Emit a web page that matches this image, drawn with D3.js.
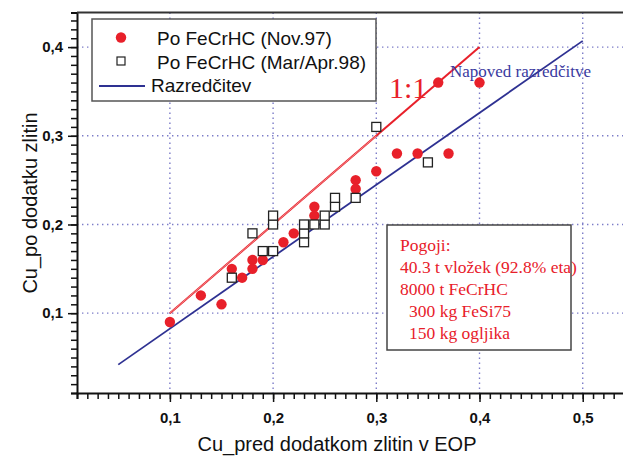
<!DOCTYPE html>
<html>
  <head>
    <style>
      html,
      body { margin: 0; background: #fff; }
      svg { display: block; }
    </style>
    <script src="https://d3js.org/d3.v7.js"></script>
  </head>
  <body>
    <svg class="chart"></svg>

    <script>
      const width = 623;
      const height = 458;

      // Po FeCrHC (Nov.97) - red circles
      const nov97X = [0.10, 0.13, 0.15, 0.16, 0.17, 0.18, 0.18, 0.19, 0.20, 0.21, 0.22, 0.24, 0.24, 0.28, 0.28, 0.30, 0.32, 0.34, 0.36, 0.37, 0.40];
      const nov97Y = [0.09, 0.12, 0.11, 0.15, 0.14, 0.16, 0.15, 0.16, 0.17, 0.18, 0.19, 0.22, 0.21, 0.25, 0.24, 0.26, 0.28, 0.28, 0.36, 0.28, 0.36];

      // Po FeCrHC (Mar/Apr.98) - open squares
      const mar98X = [0.16, 0.18, 0.19, 0.20, 0.20, 0.20, 0.23, 0.23, 0.23, 0.24, 0.25, 0.25, 0.26, 0.26, 0.28, 0.30, 0.35];
      const mar98Y = [0.14, 0.19, 0.17, 0.17, 0.20, 0.21, 0.18, 0.19, 0.20, 0.20, 0.20, 0.21, 0.22, 0.23, 0.23, 0.31, 0.27];

      // Razredčitev (predicted dilution) and the 1:1 line
      const dilutionX = [0.05, 0.50];
      const dilutionY = [0.042, 0.407];
      const oneToOneX = [0.10, 0.40];
      const oneToOneY = [0.10, 0.40];

      const tickValues = [0.1, 0.2, 0.3, 0.4, 0.5];
      const legendLabels = ['Po FeCrHC (Nov.97)', 'Po FeCrHC (Mar/Apr.98)', 'Razredčitev'];
      const noteLines = ['Pogoji:', '40.3 t vložek (92.8% eta)', '8000 t FeCrHC', '  300 kg FeSi75', '  150 kg ogljika'];

      const red = '#e8202a';
      const blue = '#2e3192';
      const gridColor = '#7c7cc8';

      const svg = d3.select('svg')
        .attr('width', width)
        .attr('height', height);

      const x = d3.scaleLinear().domain([0.01, 0.54]).range([77, 624]);
      const y = d3.scaleLinear().domain([0.01, 0.439]).range([393, 12.5]);

      const fmt = (d) => d.toFixed(1).replace('.', ',');

      // grid
      svg.append('g')
        .selectAll('line')
        .data(tickValues)
        .join('line')
        .attr('x1', (d) => x(d)).attr('x2', (d) => x(d))
        .attr('y1', y.range()[1]).attr('y2', y.range()[0])
        .attr('stroke', gridColor)
        .attr('stroke-width', 1.4)
        .attr('stroke-dasharray', '1.4,3.6');

      svg.append('g')
        .selectAll('line')
        .data(tickValues.filter((d) => d < 0.44))
        .join('line')
        .attr('x1', x.range()[0]).attr('x2', x.range()[1])
        .attr('y1', (d) => y(d)).attr('y2', (d) => y(d))
        .attr('stroke', gridColor)
        .attr('stroke-width', 1.4)
        .attr('stroke-dasharray', '1.4,3.6');

      // minor ticks every 0.01
      const minorX = d3.range(1, 55).map((i) => i / 100);
      const minorY = d3.range(1, 44).map((i) => i / 100);

      svg.append('g')
        .attr('transform', `translate(0,${y.range()[0]})`)
        .call(d3.axisBottom(x).tickValues(minorX).tickSize(6).tickFormat(''));
      svg.append('g')
        .attr('transform', `translate(0,${y.range()[0]})`)
        .call(d3.axisBottom(x).tickValues(tickValues).tickSize(9).tickPadding(10).tickFormat(fmt))
        .call((g) => g.select('.domain').remove());

      svg.append('g')
        .attr('transform', `translate(${x.range()[0]},0)`)
        .call(d3.axisLeft(y).tickValues(minorY).tickSize(6).tickFormat(''));
      svg.append('g')
        .attr('transform', `translate(${x.range()[0]},0)`)
        .call(d3.axisLeft(y).tickValues(tickValues.slice(0, 4)).tickSize(9).tickPadding(5).tickFormat(fmt))
        .call((g) => g.select('.domain').remove());

      svg.selectAll('.domain').attr('stroke', '#111').attr('stroke-width', 2);
      svg.selectAll('.tick line').attr('stroke', '#111').attr('stroke-width', 1.5);
      svg.selectAll('.tick text')
        .style('font-family', 'Liberation Sans, Arial, sans-serif')
        .style('font-size', '15px')
        .style('font-weight', 'bold')
        .attr('fill', '#111');

      // top frame
      svg.append('line')
        .attr('x1', x.range()[0]).attr('x2', width)
        .attr('y1', y.range()[1]).attr('y2', y.range()[1])
        .attr('stroke', '#333').attr('stroke-width', 2);

      // axis titles
      svg.append('text')
        .attr('x', 337).attr('y', 451)
        .attr('text-anchor', 'middle')
        .style('font-family', 'Liberation Sans, Arial, sans-serif')
        .style('font-size', '20px')
        .attr('fill', '#111')
        .text('Cu_pred dodatkom zlitin v EOP');

      svg.append('text')
        .attr('transform', 'translate(37,203) rotate(-90)')
        .attr('text-anchor', 'middle')
        .style('font-family', 'Liberation Sans, Arial, sans-serif')
        .style('font-size', '20px')
        .attr('fill', '#111')
        .text('Cu_po dodatku zlitin');

      // lines
      const line = d3.line().x((d) => x(d[0])).y((d) => y(d[1]));

      svg.append('path')
        .datum(d3.zip(dilutionX, dilutionY))
        .attr('d', line)
        .attr('fill', 'none')
        .attr('stroke', blue)
        .attr('stroke-width', 1.8);

      svg.append('path')
        .datum(d3.zip(oneToOneX, oneToOneY))
        .attr('d', line)
        .attr('fill', 'none')
        .attr('stroke', red)
        .attr('stroke-width', 2);

      // lighter core on the lower part of the 1:1 line
      svg.append('path')
        .datum([[oneToOneX[0], oneToOneY[0]], [0.3, 0.3]])
        .attr('d', line)
        .attr('fill', 'none')
        .attr('stroke', '#f6b0b0')
        .attr('stroke-width', 0.7);

      // points
      svg.append('g')
        .selectAll('circle')
        .data(d3.zip(nov97X, nov97Y))
        .join('circle')
        .attr('cx', (d) => x(d[0]))
        .attr('cy', (d) => y(d[1]))
        .attr('r', 5.2)
        .attr('fill', red);

      svg.append('g')
        .selectAll('rect')
        .data(d3.zip(mar98X, mar98Y))
        .join('rect')
        .attr('x', (d) => x(d[0]) - 4.5)
        .attr('y', (d) => y(d[1]) - 4.5)
        .attr('width', 9)
        .attr('height', 9)
        .attr('fill', '#fff')
        .attr('stroke', '#222')
        .attr('stroke-width', 1.3);

      // line labels
      svg.append('text')
        .attr('x', 389).attr('y', 98)
        .style('font-family', 'Liberation Serif, Times New Roman, serif')
        .style('font-size', '30px')
        .attr('fill', red)
        .text('1:1');

      svg.append('text')
        .attr('x', 450).attr('y', 77)
        .style('font-family', 'Liberation Serif, Times New Roman, serif')
        .style('font-size', '17px')
        .attr('fill', '#3a3aa0')
        .text('Napoved razredčitve');

      // legend
      const legend = svg.append('g');
      legend.append('rect')
        .attr('x', 92).attr('y', 19)
        .attr('width', 284).attr('height', 82)
        .attr('fill', '#fff')
        .attr('stroke', '#555')
        .attr('stroke-width', 1.5);

      legend.append('circle')
        .attr('cx', 121).attr('cy', 37.5).attr('r', 5.2).attr('fill', red);
      legend.append('rect')
        .attr('x', 117).attr('y', 57).attr('width', 8).attr('height', 8)
        .attr('fill', '#fff').attr('stroke', '#222').attr('stroke-width', 1.2);
      legend.append('line')
        .attr('x1', 99).attr('x2', 145).attr('y1', 86).attr('y2', 86)
        .attr('stroke', blue).attr('stroke-width', 1.8);

      legend.selectAll('text')
        .data(legendLabels)
        .join('text')
        .attr('x', (d, i) => i < 2 ? 157 : 151)
        .attr('y', (d, i) => 45 + i * 23.5)
        .style('font-family', 'Liberation Sans, Arial, sans-serif')
        .style('font-size', '19px')
        .attr('fill', '#111')
        .text((d) => d);

      // conditions box
      const note = svg.append('g');
      note.append('rect')
        .attr('x', 387).attr('y', 225)
        .attr('width', 184).attr('height', 125)
        .attr('fill', '#fff')
        .attr('stroke', '#444')
        .attr('stroke-width', 1.5);

      note.selectAll('text')
        .data(noteLines)
        .join('text')
        .attr('x', (d) => d.startsWith('  ') ? 409 : 400)
        .attr('y', (d, i) => 251 + i * 22)
        .style('font-family', 'Liberation Serif, Times New Roman, serif')
        .style('font-size', '17.5px')
        .attr('fill', red)
        .text((d) => d.trim());
    </script>
  </body>
</html>
